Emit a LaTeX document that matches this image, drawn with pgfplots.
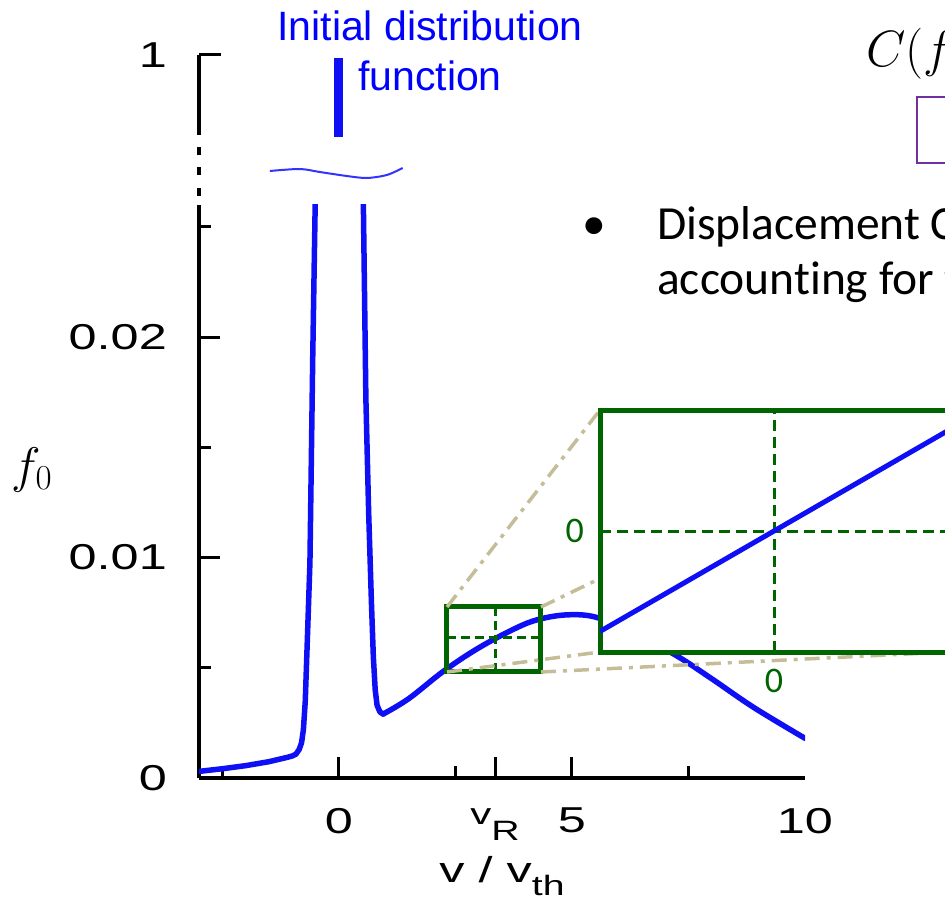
\RequirePackage{fix-cm}
\documentclass[border=0pt]{standalone}
\usepackage[no-math]{fontspec}
\setmainfont{Liberation Sans}
\newfontfamily\carlito[Ligatures=NoCommon]{Carlito}
\usepackage{graphicx}
\usepackage{pgfplots}
\pgfplotsset{compat=1.18}
\definecolor{dgreen}{RGB}{0,100,0}
\definecolor{tanc}{RGB}{196,189,151}
\definecolor{ppurple}{RGB}{112,48,160}
\definecolor{cblue}{RGB}{15,15,245}
\newcommand\tl[1]{\scalebox{1.4}[1]{\fontsize{36}{36}\selectfont #1}}
\begin{document}
\begin{tikzpicture}
\useasboundingbox (0,0) rectangle (945pt,-901pt);
\clip (0,0) rectangle (945pt,-901pt);

% ---------------- main axis ----------------
\begin{axis}[
  at={(199pt,-778pt)}, anchor=south west, scale only axis,
  width=606pt, height=573.3pt,
  xmin=-3, xmax=10, ymin=0, ymax=0.026,
  axis x line*=bottom, axis y line*=left,
  axis line style={-, line width=3.5pt, black},
  tick align=inside,
  major tick length=21pt, minor tick length=12pt,
  tick style={black, line width=3pt},
  xtick={0,3.35,5},
  xticklabels={\tl{0}, {\scalebox{1.4}[1]{\fontsize{30}{30}\selectfont v\raisebox{-16.4pt}{\fontsize{28}{28}\selectfont R}}}, \tl{5}},
  extra x ticks={10}, extra x tick labels={\tl{10}},
  extra x tick style={major tick length=0pt, tick style={draw=none}},
  minor xtick={-2.5,2.5,7.5},
  ytick={0,0.01,0.02}, yticklabels={\tl{0},\tl{0.01},\tl{0.02}},
  minor ytick={0.005,0.015,0.025},
  scaled y ticks=false, scaled x ticks=false,
  xticklabel style={anchor=north, inner sep=0pt},
  yticklabel style={anchor=east, inner sep=0pt},
  xticklabel shift=30pt, yticklabel shift=32pt,
  xlabel={\scalebox{1.4}[1]{\fontsize{36}{36}\selectfont v / v\raisebox{-13pt}{\fontsize{28}{28}\selectfont th}}},
  xlabel style={at={(axis description cs:0.5,0)}, anchor=base, yshift=-104pt, inner sep=0pt},
  ylabel={\fontsize{50}{50}\selectfont $f_0$},
  ylabel style={at={(axis description cs:-0.276,0.5375)}, anchor=center, rotate=-90, inner sep=0pt},
]
\addplot[cblue, line width=5.5pt, line join=round, line cap=round] coordinates {
(-3,0.0003) (-2.5,0.00042) (-2,0.00056) (-1.5,0.00074) (-1.1,0.00094)
(-1.0,0.001) (-0.92,0.00108) (-0.85,0.0013) (-0.8,0.0016) (-0.76,0.0022)
(-0.72,0.0035) (-0.68,0.006) (-0.62,0.0098) (-0.56,0.0191) (-0.5,0.027)
(0.52,0.027) (0.58,0.0172) (0.64,0.012) (0.7,0.0079) (0.74,0.0055)
(0.78,0.0040) (0.82,0.0033) (0.88,0.0030) (0.95,0.0029)
};
\addplot[cblue, line width=5.5pt, line cap=round, smooth, tension=0.6] coordinates {
(0.95,0.0029) (1.5,0.0036) (2.25,0.00485) (3.0,0.0059) (3.8,0.0068)
(4.3,0.0072) (4.9,0.0074) (5.5,0.0073) (6.2,0.0067)
(7.2,0.0056) (8.0,0.0045) (8.9,0.0032) (10,0.0018)
};
\draw[dgreen, line width=3pt, dash pattern=on 9pt off 5pt] (axis cs:3.35,0.00481) -- (axis cs:3.35,0.00776);
\draw[dgreen, line width=3pt, dash pattern=on 9pt off 5pt] (axis cs:2.32,0.00635) -- (axis cs:4.33,0.00635);
\draw[dgreen, line width=5pt] (axis cs:2.32,0.00481) rectangle (axis cs:4.33,0.00776);
\end{axis}

% ---------------- upper axis (above the break) ----------------
\begin{axis}[
  at={(199pt,-135pt)}, anchor=south west, scale only axis,
  width=606pt, height=80pt,
  xmin=-3, xmax=10, ymin=0.9, ymax=1,
  axis x line=none, axis y line*=left,
  axis line style={-, line width=3.5pt, black},
  tick align=inside, major tick length=22pt,
  tick style={black, line width=3pt},
  ytick={1}, yticklabels={\tl{1}},
  yticklabel style={anchor=east, inner sep=0pt}, yticklabel shift=32pt,
  clip=false,
]
\addplot[cblue, line width=9pt] coordinates {(0,0.8975) (0,0.99625)};
\addplot[blue!80!white, line width=2pt, smooth] coordinates {
(-1.48,0.855) (-0.84,0.8575) (-0.41,0.85375) (0.17,0.84875) (0.60,0.84625) (1.03,0.85) (1.37,0.85875)
};
\end{axis}

% axis break (dotted segment)
\draw[line width=3.5pt, dash pattern=on 8pt off 12.5pt] (199pt,-147pt) -- (199pt,-197pt);

% connector lines
\begin{scope}[tanc, line width=3.5pt, dash pattern=on 15pt off 7pt on 4pt off 7pt]
\draw (447pt,-607pt) -- (600pt,-410pt);
\draw (541pt,-607pt) -- (948pt,-410pt);
\draw (447pt,-672pt) -- (600pt,-652pt);
\draw (541pt,-672pt) -- (948pt,-652pt);
\end{scope}

% ---------------- zoomed inset ----------------
\begin{axis}[
  at={(600pt,-652pt)}, anchor=south west, scale only axis,
  width=348pt, height=242pt,
  xmin=-1, xmax=1, ymin=-1, ymax=1,
  axis background/.style={fill=white},
  axis line style={dgreen, line width=5pt},
  xtick={0}, ytick={0}, xticklabels={0}, yticklabels={0},
  major tick length=0pt, tick style={draw=none},
  grid=major,
  major grid style={dgreen, line width=3pt, dash pattern=on 11pt off 6pt},
  ticklabel style={text=dgreen, font=\carlito\fontsize{36}{36}\selectfont, inner sep=0pt},
  xticklabel style={anchor=north}, yticklabel style={anchor=east},
  xticklabel shift=17pt, yticklabel shift=16pt,
]
\addplot[cblue, line width=5pt] coordinates {(-1,-0.83) (1,0.83)};
\end{axis}

% ---------------- texts ----------------
\node[anchor=base, text=blue, inner sep=0pt, font=\fontsize{41}{41}\selectfont] at (430pt,-41pt) {Initial distribution};
\node[anchor=base, text=blue, inner sep=0pt, font=\fontsize{41}{41}\selectfont] at (430pt,-91pt) {function};

\node[anchor=base, inner sep=0pt, font=\carlito\fontsize{47.5}{47.5}\selectfont] at (594pt,-240pt) {•};
\node[anchor=base west, inner sep=0pt, font=\carlito\fontsize{47.5}{47.5}\selectfont] at (657pt,-240pt) {Displacement Collision};
\node[anchor=base west, inner sep=0pt, font=\carlito\fontsize{47.5}{47.5}\selectfont] at (657pt,-295pt) {accounting for the};

\node[anchor=base west, inner sep=0pt, font=\fontsize{51}{51}\selectfont] at (866pt,-67pt) {$C(f$};
\draw[ppurple, line width=2.5pt] (917pt,-97pt) rectangle (990pt,-163pt);
\end{tikzpicture}
\end{document}
